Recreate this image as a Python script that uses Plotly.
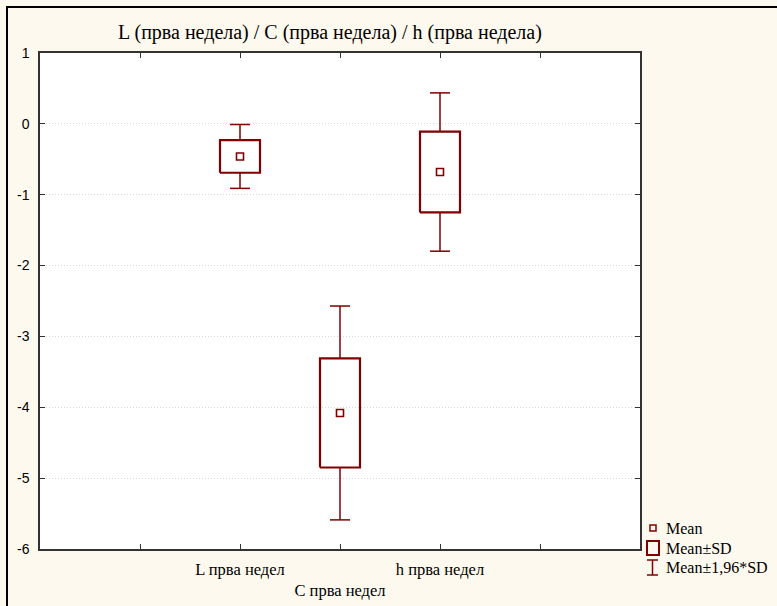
import plotly.graph_objects as go

# Category labels and summary statistics per variable
categories = ["L прва недел", "C прва недел", "h прва недел"]
means = [-0.46, -4.08, -0.68]
sds = [0.23, 0.77, 0.57]
z_factor = 1.96

cat_pos = [2, 3, 4]
y_ticks = [1, 0, -1, -2, -3, -4, -5, -6]

DARK_RED = "#800000"
BG = "#FEF9EE"
SERIF = "Liberation Serif, Times New Roman, serif"
SANS = "Liberation Sans, Arial, sans-serif"

box_half = 0.2
cap_half = 0.1

wx, wy, bx, by = [], [], [], []
for xc, m, s in zip(cat_pos, means, sds):
    lo_sd, hi_sd = m - s, m + s
    lo_z, hi_z = m - z_factor * s, m + z_factor * s
    # whisker stems and caps
    wx += [xc, xc, None, xc, xc, None,
           xc - cap_half, xc + cap_half, None, xc - cap_half, xc + cap_half, None]
    wy += [hi_sd, hi_z, None, lo_sd, lo_z, None,
           hi_z, hi_z, None, lo_z, lo_z, None]
    # mean +/- SD box
    bx += [xc - box_half, xc + box_half, xc + box_half, xc - box_half, xc - box_half, None]
    by += [lo_sd, lo_sd, hi_sd, hi_sd, lo_sd, None]

fig = go.Figure()
fig.add_trace(go.Scatter(x=wx, y=wy, mode="lines", line=dict(color=DARK_RED, width=1.5),
                         hoverinfo="skip", showlegend=False))
fig.add_trace(go.Scatter(x=bx, y=by, mode="lines", line=dict(color=DARK_RED, width=2.2),
                         hoverinfo="skip", showlegend=False))
fig.add_trace(go.Scatter(x=cat_pos, y=means, mode="markers",
                         marker=dict(symbol="square-open", size=7,
                                     color=DARK_RED, line=dict(color=DARK_RED, width=1.6)),
                         showlegend=False))

tickvals = list(range(0, 7))
ticktext = ["", ""] + [categories[0], "<br>" + categories[1], categories[2]] + ["", ""]

fig.update_layout(
    width=777, height=606,
    margin=dict(l=40, r=137, t=53, b=57),
    paper_bgcolor=BG, plot_bgcolor="white",
    showlegend=False,
    xaxis=dict(range=[0, 6], tickvals=tickvals, ticktext=ticktext,
               showgrid=False, zeroline=False, automargin=False,
               showline=True, linecolor="#333333", linewidth=1.5, mirror="ticks",
               ticks="inside", ticklen=5, tickcolor="#333333",
               tickfont=dict(family=SERIF, size=16.5, color="black"),
               ticklabelstandoff=4),
    yaxis=dict(range=[-6, 1], tickvals=y_ticks, ticktext=[str(v) for v in y_ticks],
               showgrid=True, gridcolor="#d8d8d8", griddash="1px,2px", gridwidth=1,
               zeroline=False, automargin=False,
               showline=True, linecolor="#333333", linewidth=1.5, mirror="ticks",
               ticks="inside", ticklen=5, tickcolor="#333333",
               tickfont=dict(family=SANS, size=14, color="black"),
               ticklabelstandoff=6),
)

def px_x(p):
    return (p - 40) / 600.0

def px_y(p):
    return (549 - p) / 496.0

shapes = [
    # outer frame of the figure
    dict(type="rect", xref="paper", yref="paper",
         x0=px_x(7), x1=px_x(790), y0=px_y(620), y1=px_y(7),
         line=dict(color="black", width=2), fillcolor="rgba(0,0,0,0)", layer="below"),
    # legend icons
    dict(type="rect", xref="paper", yref="paper",
         x0=px_x(650), x1=px_x(656), y0=px_y(531), y1=px_y(525),
         line=dict(color=DARK_RED, width=1.5)),
    dict(type="rect", xref="paper", yref="paper",
         x0=px_x(647), x1=px_x(659), y0=px_y(555), y1=px_y(541),
         line=dict(color=DARK_RED, width=2)),
    dict(type="line", xref="paper", yref="paper",
         x0=px_x(652.5), x1=px_x(652.5), y0=px_y(575), y1=px_y(560),
         line=dict(color=DARK_RED, width=1.5)),
    dict(type="line", xref="paper", yref="paper",
         x0=px_x(647), x1=px_x(658), y0=px_y(560), y1=px_y(560),
         line=dict(color=DARK_RED, width=1.5)),
    dict(type="line", xref="paper", yref="paper",
         x0=px_x(647), x1=px_x(658), y0=px_y(575), y1=px_y(575),
         line=dict(color=DARK_RED, width=1.5)),
]
fig.update_layout(shapes=shapes)

legend_labels = ["Mean", "Mean±SD", "Mean±1,96*SD"]
legend_y = [528, 548, 567]
annotations = [
    dict(text="L (прва недела) / C (прва недела) / h (прва недела)",
         xref="paper", yref="paper", x=px_x(330), y=px_y(32),
         showarrow=False, xanchor="center", yanchor="middle",
         font=dict(family=SERIF, size=20, color="black")),
]
for lab, ly in zip(legend_labels, legend_y):
    annotations.append(dict(text=lab, xref="paper", yref="paper",
                            x=px_x(664), y=px_y(ly), showarrow=False,
                            xanchor="left", yanchor="middle",
                            font=dict(family=SERIF, size=16, color="black")))
fig.update_layout(annotations=annotations)

fig.write_html("out.html")
